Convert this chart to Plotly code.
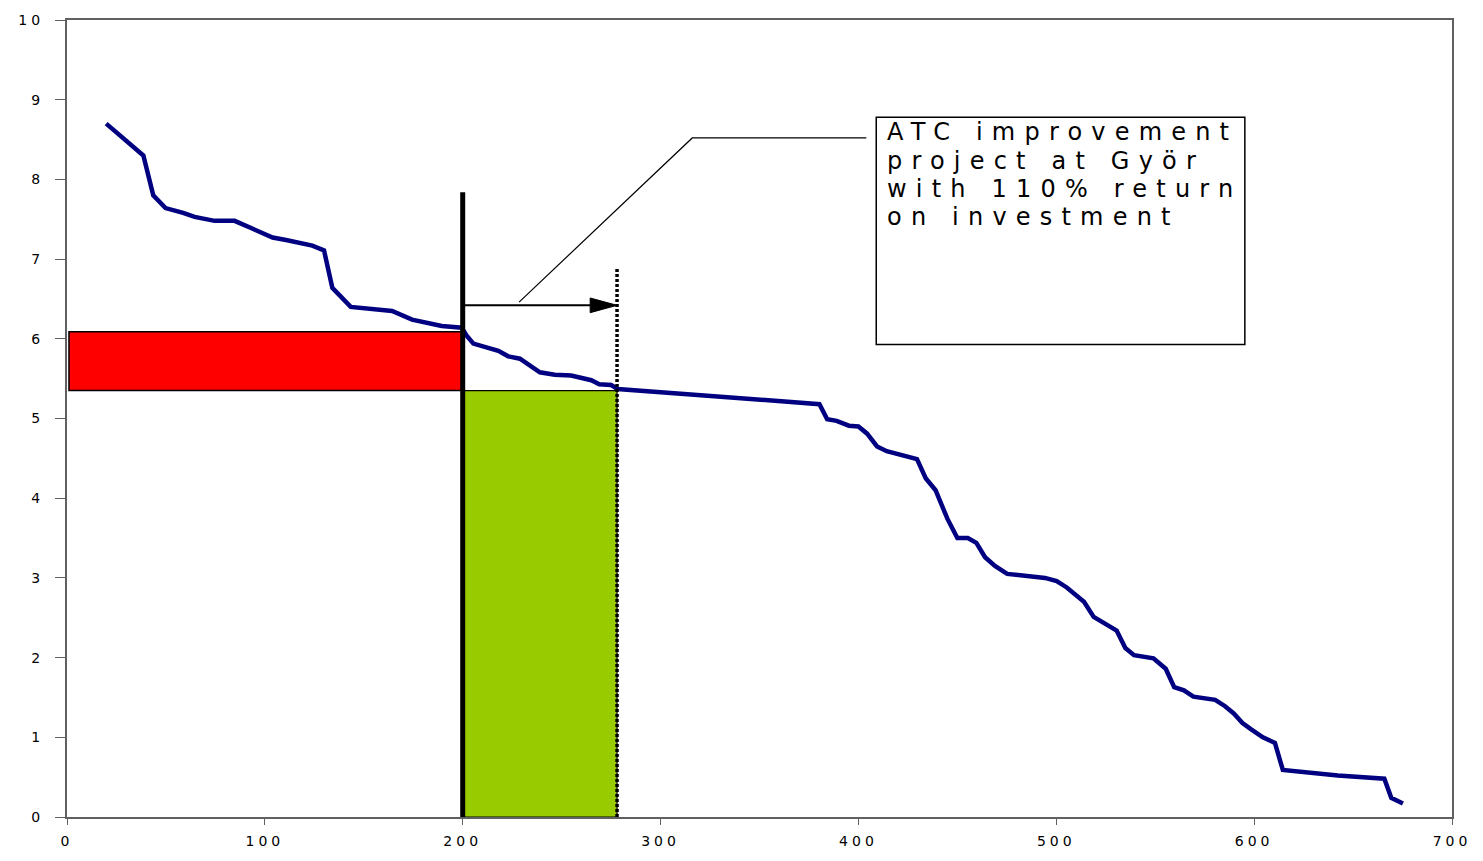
import plotly.graph_objects as go

# ---- data ----
curve_x = [19.8, 38.6, 43.6, 49.8, 58.7, 64.5, 74.6, 84.7, 93.9, 103.9, 110.7, 124.0,
           129.9, 134.1, 143.4, 154.2, 164.3, 174.4, 189.4, 199.5, 202.0, 205.4, 210.4,
           218.0, 223.0, 228.9, 239.0, 246.5, 254.8, 265.0, 269.0, 275.0, 278.3, 380.3,
           384.2, 389.0, 395.2, 400.0, 404.4, 409.4, 414.3, 423.7, 429.6, 434.0, 439.0,
           445.0, 450.0, 455.3, 459.6, 464.0, 469.0, 475.2, 494.3, 500.2, 505.3, 514.0,
           518.9, 530.5, 534.9, 539.3, 549.1, 555.3, 559.6, 564.5, 569.3, 580.3, 585.3,
           589.7, 594.1, 598.5, 604.4, 610.5, 614.5, 642.3, 665.8, 669.3, 675.2]
curve_y = [8.70, 8.30, 7.80, 7.64, 7.58, 7.53, 7.48, 7.48, 7.38, 7.27, 7.24, 7.17,
           7.11, 6.64, 6.40, 6.38, 6.35, 6.24, 6.16, 6.14, 6.04, 5.94, 5.90,
           5.85, 5.78, 5.75, 5.58, 5.55, 5.54, 5.48, 5.43, 5.42, 5.37, 5.18,
           4.99, 4.97, 4.91, 4.90, 4.81, 4.65, 4.59, 4.52, 4.49, 4.25, 4.10,
           3.74, 3.50, 3.50, 3.44, 3.26, 3.15, 3.05, 3.00, 2.96, 2.88, 2.70,
           2.51, 2.34, 2.12, 2.03, 1.99, 1.86, 1.63, 1.59, 1.51, 1.47, 1.39,
           1.30, 1.18, 1.10, 1.00, 0.93, 0.59, 0.52, 0.48, 0.24, 0.17]

current_capacity = 200      # thick solid line
improved_capacity = 278     # dotted line
red_bottom = 5.35
red_top = 6.09
arrow_y = 6.42
x_ticks = [0, 100, 200, 300, 400, 500, 600, 700]
x_tick_labels = ["0", "100", "200", "300", "400", "500", "600", "700"]
y_ticks = [0, 1, 2, 3, 4, 5, 6, 7, 8, 9, 10]
y_tick_labels = ["0", "1", "2", "3", "4", "5", "6", "7", "8", "9", "10"]
callout_lines = ["ATC improvement", "project at Györ", "with 110% return", "on investment"]

FONT = "DejaVu Sans"
AXIS_COL = "#606060"
W, H = 1483, 861
ML, MR, MT, MB = 67, 25, 17, 31

# pixel -> data helpers (plot area 1391 x 813 px for 700 x 10 units)
PX_X = 700 / 1391.0
PX_Y = 10 / 813.0


def spaced(t, px):
    return f'<span style="letter-spacing:{px}px">{t}</span>'


fig = go.Figure()
fig.add_trace(go.Scatter(x=curve_x, y=curve_y, mode="lines",
                         line=dict(color="#000080", width=4.5),
                         hoverinfo="skip", showlegend=False))

head_len = 27 * PX_X
head_half = 7.5 * PX_Y
shapes = [
    dict(type="rect", xref="x", yref="y", x0=1, x1=current_capacity, y0=red_bottom, y1=red_top,
         fillcolor="#FF0000", line=dict(color="black", width=1.5), layer="below"),
    dict(type="rect", xref="x", yref="y", x0=current_capacity, x1=improved_capacity, y0=0, y1=red_bottom,
         fillcolor="#99CC00", line=dict(color="black", width=1.2), layer="below"),
    dict(type="line", xref="x", yref="y", x0=current_capacity, x1=current_capacity, y0=0, y1=7.84,
         line=dict(color="black", width=5)),
    dict(type="line", xref="x", yref="y", x0=improved_capacity, x1=improved_capacity, y0=0, y1=6.88,
         line=dict(color="black", width=3.5, dash="3px,2px")),
    # arrow shaft and head
    dict(type="line", xref="x", yref="y", x0=current_capacity, x1=improved_capacity - head_len,
         y0=arrow_y, y1=arrow_y, line=dict(color="black", width=2)),
    dict(type="path", xref="x", yref="y",
         path=(f"M{improved_capacity - head_len},{arrow_y + head_half} "
               f"L{improved_capacity},{arrow_y} "
               f"L{improved_capacity - head_len},{arrow_y - head_half} Z"),
         fillcolor="black", line=dict(color="black", width=1)),
    # callout leader line
    dict(type="path", xref="x", yref="y", path="M228.5,6.46 L316,8.52 L404,8.52",
         line=dict(color="black", width=1.2)),
    # callout box
    dict(type="rect", xref="x", yref="y", x0=409, x1=595.3, y0=5.93, y1=8.78,
         fillcolor="white", line=dict(color="black", width=1.5)),
]

annotations = []
for i, line in enumerate(callout_lines):
    annotations.append(dict(
        x=414, y=8.78, xref="x", yref="y", xanchor="left", yanchor="top",
        yshift=-28.3 * i, align="left", showarrow=False, borderpad=0,
        text=spaced(line, 9.2), font=dict(family=FONT, size=24, color="black")))

fig.update_layout(
    width=W, height=H,
    margin=dict(l=ML, r=MR, t=MT, b=MB, pad=0),
    paper_bgcolor="white", plot_bgcolor="white",
    shapes=shapes, annotations=annotations, showlegend=False,
    font=dict(family=FONT, size=13, color="black"),
)
fig.update_xaxes(range=[0, 700], tickmode="array", tickvals=x_ticks,
                 ticktext=[spaced(t, 4) for t in x_tick_labels],
                 showgrid=False, zeroline=False, showline=True, linecolor=AXIS_COL, linewidth=2,
                 mirror=True, ticks="outside", ticklen=6, tickcolor=AXIS_COL, tickwidth=1,
                 ticklabelstandoff=4, ticklabeloverflow="allow",
                 tickfont=dict(family=FONT, size=14, color="black"))
fig.update_yaxes(range=[0, 10], tickmode="array", tickvals=y_ticks,
                 ticktext=[spaced(t, 4) for t in y_tick_labels],
                 showgrid=False, zeroline=False, showline=True, linecolor=AXIS_COL, linewidth=2,
                 mirror=True, ticks="outside", ticklen=10, tickcolor=AXIS_COL, tickwidth=1,
                 ticklabelstandoff=8, tickfont=dict(family=FONT, size=14, color="black"))

# pin the figure to the top-left corner and let it fill the actual viewport,
# keeping the margins proportional to the 1483x861 design
pin_page = (
    "document.documentElement.style.margin='0';"
    "document.body.style.margin='0';"
    "document.body.style.overflow='hidden';"
    "var gd=document.getElementById('{plot_id}');"
    "gd.style.position='fixed';gd.style.left='0px';gd.style.top='0px';"
    "var vw=window.innerWidth, vh=window.innerHeight;"
    f"if(vw>0&&vh>0&&(vw!=={W}||vh!=={H})){{"
    "Plotly.relayout(gd,{width:vw,height:vh,"
    f"'margin.l':{ML}*vw/{W},'margin.r':{MR}*vw/{W},"
    f"'margin.t':{MT}*vh/{H},'margin.b':{MB}*vh/{H}}});"
    "}"
)
fig.write_html("out.html", config={"displayModeBar": False}, post_script=pin_page)
